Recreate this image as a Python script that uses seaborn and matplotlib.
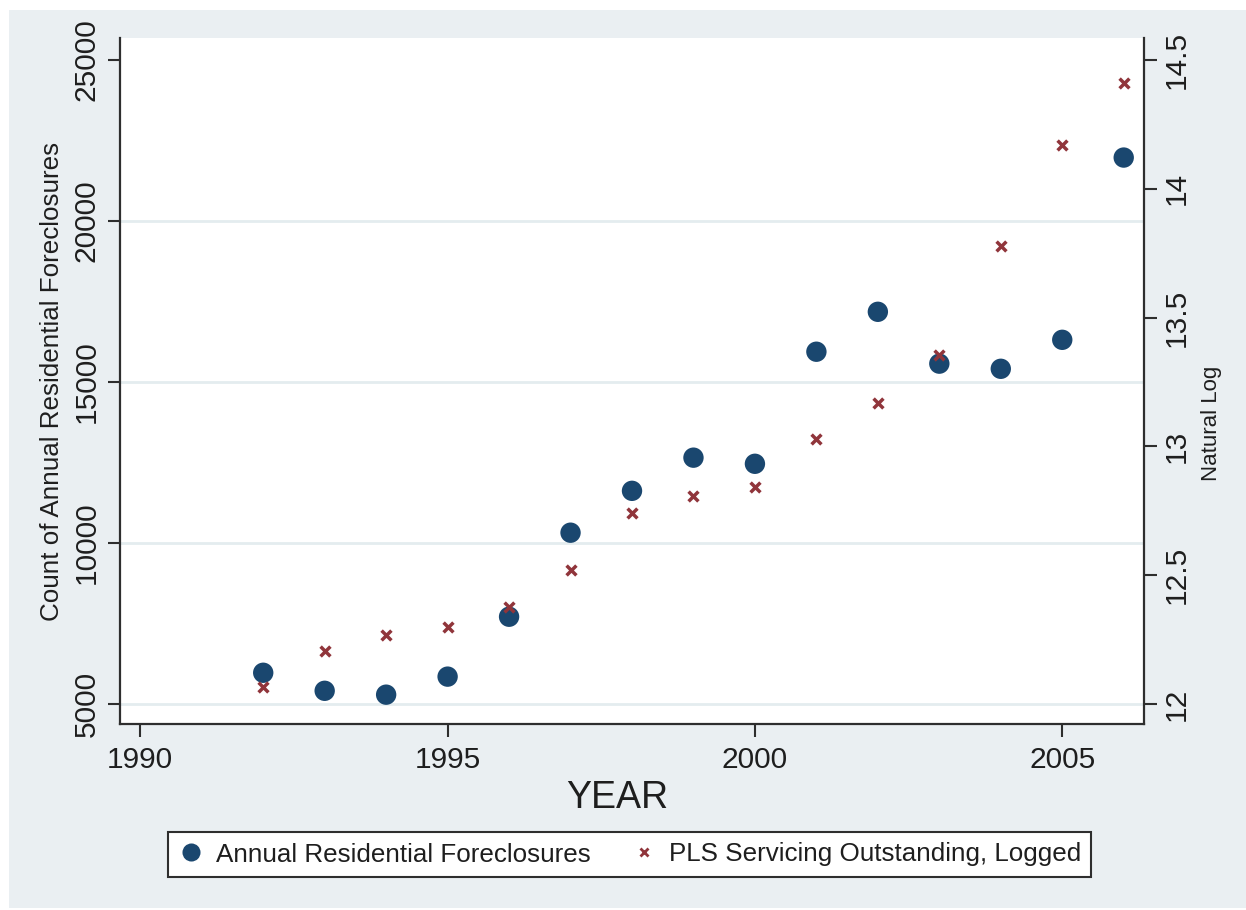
import matplotlib
matplotlib.use("Agg")
import matplotlib.pyplot as plt
from matplotlib.patches import Rectangle
from matplotlib.lines import Line2D
import seaborn as sns
import pandas as pd

# Annual data, 1992-2006
years = [1992, 1993, 1994, 1995, 1996, 1997, 1998, 1999,
         2000, 2001, 2002, 2003, 2004, 2005, 2006]
foreclosures = [5970, 5410, 5290, 5850, 7710, 10320, 11620, 12650,
                12460, 15940, 17180, 15570, 15410, 16310, 21970]
pls_log = [12.067, 12.207, 12.269, 12.300, 12.378, 12.521, 12.742, 12.808,
           12.843, 13.030, 13.169, 13.355, 13.778, 14.170, 14.411]

count_ticks = [5000, 10000, 15000, 20000, 25000]
log_ticks = [12, 12.5, 13, 13.5, 14, 14.5]
year_ticks = [1990, 1995, 2000, 2005]

label_count = "Annual Residential Foreclosures"
label_log = "PLS Servicing Outstanding, Logged"

df = pd.DataFrame({"year": years, "count": foreclosures, "lnpls": pls_log})

navy = "#1A476F"
maroon = "#90353B"
bg = "#EAEFF2"
ink = "#1E1E1E"
axis_col = "#2E2E2E"

sns.set_theme(style="white")
plt.rcParams["font.family"] = ["Liberation Sans", "DejaVu Sans"]

W, H = 1246, 910
fig = plt.figure(figsize=(W / 100, H / 100), dpi=100, facecolor="white")
fig.patches.append(Rectangle((9 / W, 2 / H), 1 - 9 / W, (H - 12) / H,
                             transform=fig.transFigure, facecolor=bg,
                             edgecolor="none", zorder=-10))

ax = fig.add_axes([120 / W, 1 - 724 / H, 1024 / W, 686 / H])
ax.set_facecolor("white")
ax2 = ax.twinx()

sns.scatterplot(data=df, x="year", y="count", ax=ax, color=navy, s=215,
                edgecolor="none", legend=False, zorder=3)
sns.scatterplot(data=df, x="year", y="lnpls", ax=ax2, color=maroon, marker="x",
                s=50, linewidth=2.5, legend=False, zorder=4)

# aligned scales: 5000 <-> 12, 25000 <-> 14.5
ax.set_xlim(1989.67, 2006.33)
ax.set_ylim(4379, 25683)
ax2.set_ylim(12 + (4379 - 5000) / 8000, 12 + (25683 - 5000) / 8000)

ax.set_xticks(year_ticks)
ax.set_yticks(count_ticks)
ax2.set_yticks(log_ticks)
ax2.set_yticklabels(["12", "12.5", "13", "13.5", "14", "14.5"])

ax.yaxis.grid(True, color="#E4ECEF", linewidth=2)
ax.get_ygridlines()[-1].set_visible(False)
ax.set_axisbelow(True)

for a in (ax, ax2):
    for s in a.spines.values():
        s.set_visible(False)
ax.spines["left"].set_visible(True)
ax.spines["bottom"].set_visible(True)
ax2.spines["right"].set_visible(True)
for s in (ax.spines["left"], ax.spines["bottom"], ax2.spines["right"]):
    s.set_color(axis_col)
    s.set_linewidth(1.6)

ax.tick_params(axis="x", direction="out", length=9, width=1.5, color=axis_col,
               labelsize=21.5, labelcolor=ink, pad=6.5, bottom=True)
ax.tick_params(axis="y", direction="out", length=9, width=1.5, color=axis_col,
               labelsize=21.5, labelcolor=ink, pad=4.7, left=True)
ax2.tick_params(axis="y", direction="out", length=9, width=1.5, color=axis_col,
                labelsize=21.5, labelcolor=ink, pad=4.3, right=True)
for t in ax.get_yticklabels() + ax2.get_yticklabels():
    t.set_rotation(90)
    t.set_va("center")

ax.set_xlabel("YEAR", fontsize=27, color=ink)
ax.xaxis.set_label_coords((617 - 120) / 1024, (724 - 780) / 686)
ax.xaxis.label.set_va("top")
ax.set_ylabel("Count of Annual Residential Foreclosures", fontsize=18.7, color=ink)
ax.yaxis.set_label_coords((64 - 120) / 1024, 0.5)
ax2.set_ylabel("Natural Log", fontsize=16, color=ink, rotation=90)
ax2.yaxis.set_label_coords((1201 - 120) / 1024, (724 - 423) / 686)
ax2.yaxis.label.set_va("top")

handles = [
    Line2D([], [], linestyle="none", marker="o", markersize=13,
           markerfacecolor=navy, markeredgecolor="none"),
    Line2D([], [], linestyle="none", marker="x", markersize=6,
           markeredgecolor=maroon, markeredgewidth=2.0),
]
leg = fig.legend(handles, [label_count, label_log], loc="center",
                 bbox_to_anchor=((167 + 1092) / 2 / W, 1 - (829 + 880) / 2 / H),
                 ncol=2, frameon=True, fancybox=False, framealpha=1,
                 facecolor="white", edgecolor=axis_col, fontsize=18.7,
                 borderpad=0.4, handlelength=1.0, handletextpad=0.46,
                 columnspacing=1.54, labelcolor=ink)
leg.get_frame().set_linewidth(1.5)

fig.savefig("out.png", dpi=100, facecolor="white")
